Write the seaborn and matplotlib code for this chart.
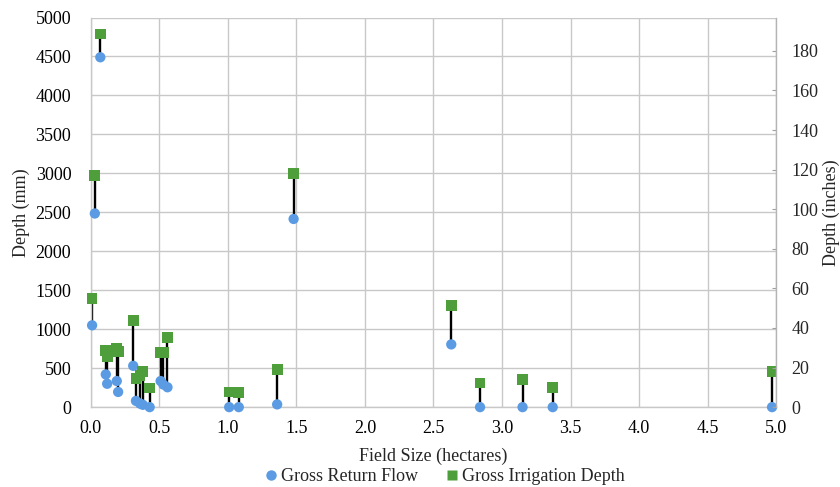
import matplotlib
matplotlib.use("Agg")
import matplotlib.pyplot as plt
from matplotlib.lines import Line2D
import seaborn as sns
import pandas as pd

# Field size (hectares) and depths (mm) per field
field_size = [0.01, 0.03, 0.07, 0.11, 0.12, 0.19, 0.20, 0.31, 0.33, 0.36, 0.38, 0.43,
              0.51, 0.53, 0.56, 1.01, 1.08, 1.36, 1.48, 2.63, 2.84, 3.15, 3.37, 4.97]
gross_irrigation = [1390, 2970, 4790, 730, 650, 750, 715, 1115, 365, 410, 460, 245,
                    700, 700, 895, 195, 185, 485, 2995, 1300, 310, 355, 250, 455]
gross_return = [1050, 2485, 4490, 420, 300, 335, 195, 530, 80, 45, 30, 0,
                335, 290, 255, 0, 0, 35, 2415, 805, 0, 0, 0, 0]

x_ticks = [0.0, 0.5, 1.0, 1.5, 2.0, 2.5, 3.0, 3.5, 4.0, 4.5, 5.0]
y_ticks_mm = list(range(0, 5001, 500))
y_ticks_in = list(range(0, 181, 20))

df = pd.DataFrame({"size": field_size, "irr": gross_irrigation, "ret": gross_return})

sns.set_theme(style="whitegrid")
plt.rcParams["font.family"] = ["Liberation Serif", "DejaVu Serif"]
FS = 13

blue = "#5b9be3"
green = "#4e9e3c"

fig = plt.figure(figsize=(8.4, 4.87), dpi=100)
ax = fig.add_axes([0.108, 0.164, 0.816, 0.800])

# connectors between return flow and irrigation depth
ax.vlines(df["size"], df["ret"], df["irr"], colors="black", linewidth=1.7, zorder=2)

sns.scatterplot(data=df, x="size", y="ret", ax=ax, color=blue, marker="o", s=55,
                edgecolor="none", zorder=3, clip_on=False)
sns.scatterplot(data=df, x="size", y="irr", ax=ax, color=green, marker="s", s=60,
                edgecolor="none", zorder=4, clip_on=False)

ax.set_xlim(0, 5)
ax.set_ylim(0, 5000)
ax.set_xticks(x_ticks)
ax.set_xticklabels([f"{t:.1f}" for t in x_ticks], fontsize=FS)
ax.set_yticks(y_ticks_mm)
ax.set_yticklabels([str(t) for t in y_ticks_mm], fontsize=FS)
ax.set_xlabel("Field Size (hectares)", fontsize=FS, labelpad=8)
ax.set_ylabel("Depth (mm)", fontsize=FS, labelpad=4)
ax.grid(True, color="#c8c8c8", linewidth=1.0)
ax.tick_params(axis="y", length=0, pad=14, colors="black")
ax.tick_params(axis="x", length=0, pad=9, colors="black")
for side in ["top", "right"]:
    ax.spines[side].set_visible(False)
for side in ["left", "bottom"]:
    ax.spines[side].set_color("#c8c8c8")
    ax.spines[side].set_linewidth(1.0)
ax.set_facecolor("white")

# secondary axis in inches
ax2 = ax.twinx()
ax2.set_ylim(0, 5000 / 25.4)
ax2.set_yticks(y_ticks_in)
ax2.set_yticklabels([str(t) for t in y_ticks_in], fontsize=FS)
ax2.grid(False)
ax2.tick_params(axis="y", direction="in", length=3, width=0.8, color="#a0a0a0", pad=11)
for side in ["top", "left", "bottom"]:
    ax2.spines[side].set_visible(False)
ax2.spines["right"].set_color("#b4b4b4")
ax2.spines["right"].set_linewidth(1.0)
ax2.set_ylabel("Depth (inches)", fontsize=FS, labelpad=3)

handles = [
    Line2D([0], [0], marker="o", color="none", markerfacecolor=blue, markeredgecolor="none",
           markersize=7.5, label="Gross Return Flow"),
    Line2D([0], [0], marker="s", color="none", markerfacecolor=green, markeredgecolor="none",
           markersize=7.5, label="Gross Irrigation Depth"),
]
fig.legend(handles=handles, loc="lower center", bbox_to_anchor=(0.528, -0.03), ncol=2,
           frameon=False, fontsize=FS, handletextpad=0.05, columnspacing=1.4,
           handlelength=1.0)

fig.savefig("out.png", dpi=100, facecolor="white")
